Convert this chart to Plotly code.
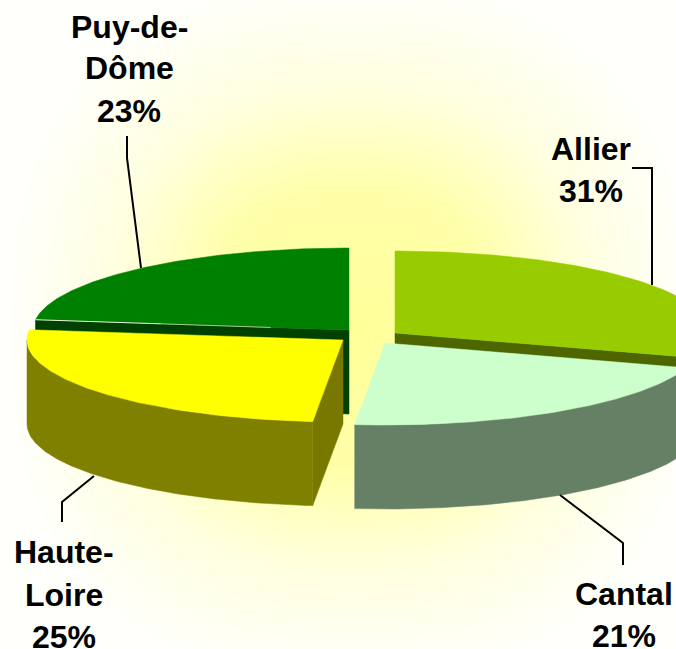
import numpy as np
import plotly.graph_objects as go

# ---- data ----
categories = ["Allier", "Cantal", "Haute-Loire", "Puy-de-Dôme"]
shares = [31, 21, 25, 23]
label_lines = [["Allier", "31%"], ["Cantal", "21%"], ["Haute-", "Loire", "25%"], ["Puy-de-", "Dôme", "23%"]]

# ---- style / layout ----
W, H = 676, 649
top_colors = ["#99CC00", "#CCFFCC", "#FFFF00", "#008000"]
side_colors = ["#4D6600", "#668066", "#808000", "#004000"]
cut_colors = ["#4D6600", "#668066", "#787800", "#004000"]
apexes = [(395, 333), (385, 343), (343, 340), (349, 330)]
label_x = [591, 624, 64, 129]
label_y = [[149, 191], [594, 636], [552, 595, 637], [27, 68, 111]]
leaders = [
    ([632, 652, 652], [168, 168, 285]),
    ([623, 623, 560], [565, 543, 495]),
    ([62, 62, 94], [522, 502, 476]),
    ([127, 127, 141], [136, 158, 268]),
]
RX, RY, DEPTH = 316, 82, 84
view_shift = [-4.0, -1.7, 0.0, 0.0]   # perspective shift of each slice's closing cut, degrees

ends = np.cumsum(shares) / np.sum(shares) * 360.0 + np.array(view_shift)
starts = np.concatenate(([0.0], ends[:-1]))


def rim(apex, a0, a1, n=120):
    t = np.radians(np.linspace(a0, a1, n))
    return apex[0] + RX * np.sin(t), apex[1] - RY * np.cos(t)


def poly(fig, xs, ys, color):
    fig.add_trace(go.Scatter(x=np.append(xs, xs[0]), y=np.append(ys, ys[0]), mode="lines",
                             fill="toself", fillcolor=color, line=dict(width=0.5, color=color),
                             hoverinfo="skip", showlegend=False))


fig = go.Figure()

# background glow
gx = np.linspace(0, W, 136)
gy = np.linspace(0, H, 130)
X, Y = np.meshgrid(gx, gy)
R = np.clip((np.abs((X - 350) / 340) ** 2.5 + np.abs((Y - 330) / 345) ** 2.5) ** (1 / 2.5), 0, 1)
fig.add_trace(go.Heatmap(x=gx, y=gy, z=R, zmin=0, zmax=1, showscale=False, hoverinfo="skip", zsmooth="best",
                         colorscale=[[0, "#FFFF99"], [0.4, "#FFFFAA"], [0.7, "#FFFFE0"], [1, "#FFFFFB"]]))


def draw(i):
    a0, a1, ap = starts[i], ends[i], apexes[i]
    # cut face seen from the front
    if i in (0, 2, 3):
        ang = a1 if i == 0 else a0
        px, py = rim(ap, ang, ang, 1)
        poly(fig, np.array([ap[0], px[0], px[0], ap[0]]),
             np.array([ap[1], py[0], py[0] + DEPTH, ap[1] + DEPTH]), cut_colors[i])
    # outer wall
    lo, hi = max(a0, 90), min(a1, 270)
    if hi > lo:
        rx, ry = rim(ap, lo, hi)
        poly(fig, np.concatenate((rx, rx[::-1])), np.concatenate((ry, ry[::-1] + DEPTH)), side_colors[i])
    # top
    rx, ry = rim(ap, a0, a1)
    poly(fig, np.concatenate(([ap[0]], rx)), np.concatenate(([ap[1]], ry)), top_colors[i])
    # pale highlight along the Puy-de-Dôme cut edge
    if i == 3:
        ex, ey = rx[0], ry[0]
        for f0, f1, col in ((0.0, 0.4, "#E8F0E0"), (0.4, 0.75, "#A0C890")):
            fig.add_trace(go.Scatter(x=[ex + (ap[0] - ex) * f0, ex + (ap[0] - ex) * f1],
                                     y=[ey + (ap[1] - ey) * f0, ey + (ap[1] - ey) * f1],
                                     mode="lines", line=dict(color=col, width=1),
                                     hoverinfo="skip", showlegend=False))


for i in (3, 0, 2, 1):
    draw(i)

for lx, ly in leaders:
    fig.add_trace(go.Scatter(x=lx, y=ly, mode="lines", line=dict(color="black", width=2),
                             hoverinfo="skip", showlegend=False))

for lines, cx, ys in zip(label_lines, label_x, label_y):
    for text, yy in zip(lines, ys):
        fig.add_annotation(x=cx, y=yy, text=f"<b>{text}</b>", showarrow=False, xanchor="center", yanchor="middle",
                           font=dict(family="Liberation Sans", size=32, color="black"))

fig.update_layout(width=W, height=H, margin=dict(l=0, r=0, t=0, b=0), showlegend=False,
                  paper_bgcolor="#FFFFFB", plot_bgcolor="#FFFFFB",
                  xaxis=dict(range=[0, W], visible=False, fixedrange=True),
                  yaxis=dict(range=[H, 0], visible=False, fixedrange=True))
fig.write_html("out.html", config={"displayModeBar": False},
               post_script="document.body.style.margin='0';document.body.style.overflow='hidden';document.body.style.background='#FFFFFB';")
